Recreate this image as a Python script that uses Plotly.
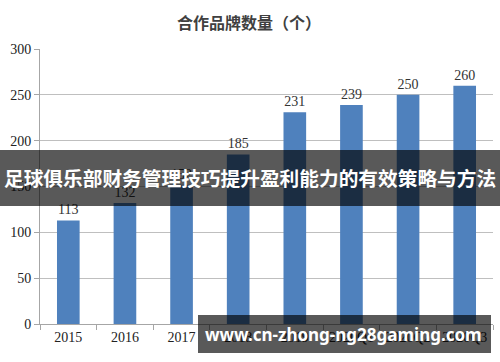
import plotly.graph_objects as go

categories = ["2015", "2016", "2017", "2018", "2019", "2020Q1", "2020Q2", "2020Q3"]
values = [113, 132, 152, 185, 231, 239, 250, 260]
y_ticks = [0, 50, 100, 150, 200, 250, 300]
title_text = "合作品牌数量（个）"
banner_text = "足球俱乐部财务管理技巧提升盈利能力的有效策略与方法"
watermark_text = "www.cn-zhong-ng28gaming.com"

W, H = 500, 362
ml, mt = 40, 49
pw, ph = 453, 275
mr = W - ml - pw
mb = H - mt - ph

def px(x):
    return (x - ml) / pw

def py(y):
    return (mt + ph - y) / ph

fig = go.Figure()
fig.add_trace(go.Bar(
    x=categories, y=values,
    marker=dict(color="#4F81BD", line=dict(width=0)),
    text=[str(v) for v in values], textposition="outside",
    textfont=dict(family="Liberation Serif", size=14, color="#333333"),
    cliponaxis=False, hoverinfo="skip",
))

fig.update_layout(
    width=W, height=H,
    margin=dict(l=ml, r=mr, t=mt, b=mb, autoexpand=False),
    paper_bgcolor="white", plot_bgcolor="white",
    bargap=0.6,
    showlegend=False,
    xaxis=dict(
        type="category", showline=True, linecolor="#a6a6a6", linewidth=1,
        ticks="outside", tickson="boundaries", ticklen=5, tickcolor="#a6a6a6",
        tickfont=dict(family="Liberation Serif", size=14, color="#222222"),
        showgrid=False, automargin=False,
    ),
    yaxis=dict(
        range=[0, 300], tickvals=y_ticks, showline=True, linecolor="#a6a6a6",
        ticks="outside", ticklen=5, tickcolor="#a6a6a6",
        gridcolor="#bfbfbf", gridwidth=1, zeroline=False, automargin=False,
        tickfont=dict(family="Liberation Serif", size=14, color="#222222"),
    ),
    shapes=[
        dict(type="rect", xref="paper", yref="paper",
             x0=px(0), x1=px(500), y0=py(206), y1=py(150),
             fillcolor="rgba(0,0,0,0.65)", line=dict(width=0), layer="above"),
        dict(type="rect", xref="paper", yref="paper",
             x0=px(198), x1=px(491), y0=py(353), y1=py(315),
             fillcolor="rgba(0,0,0,0.65)", line=dict(width=0), layer="above"),
    ],
    annotations=[
        dict(text="<b>" + title_text + "</b>", xref="paper", yref="paper",
             x=px(249), y=py(22), xanchor="center", yanchor="middle", showarrow=False,
             font=dict(family="Noto Sans CJK SC", size=16, color="#404040")),
        dict(text="<b>" + banner_text + "</b>", xref="paper", yref="paper",
             x=px(250), y=py(177), xanchor="center", yanchor="middle", showarrow=False,
             font=dict(family="Noto Sans CJK SC", size=19.7, color="white")),
        dict(text="<b>" + watermark_text + "</b>", xref="paper", yref="paper",
             x=px(343), y=py(334), xanchor="center", yanchor="middle", showarrow=False,
             font=dict(family="Noto Sans", size=17, color="white")),
    ],
)

fig.write_html("out.html", config={"displayModeBar": False, "staticPlot": True},
               post_script="document.body.style.margin='0';")
